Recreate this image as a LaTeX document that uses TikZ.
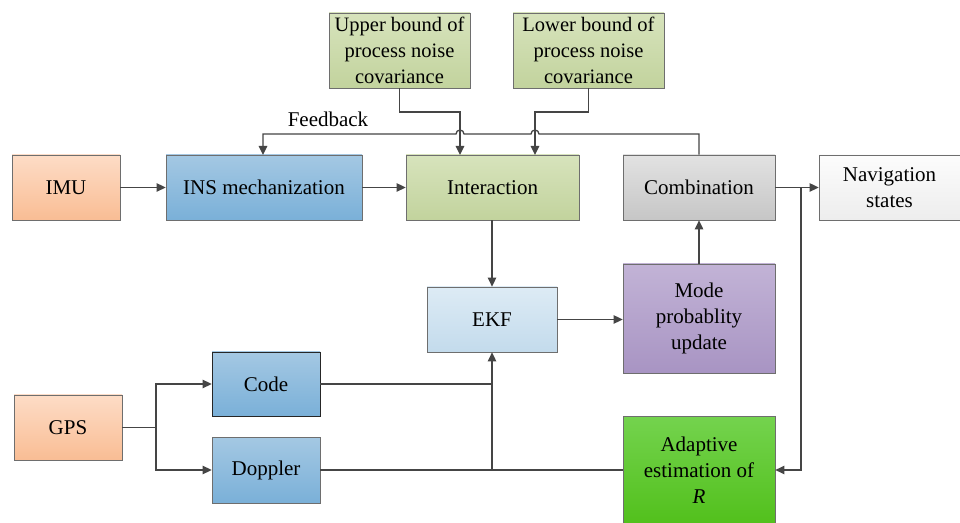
\documentclass[tikz,border=0pt]{standalone}
\usepackage{fontspec}
\setmainfont{LiberationSerif}[Extension=.ttf, UprightFont=*-Regular, ItalicFont=*-Italic, BoldFont=*-Bold, BoldItalicFont=*-BoldItalic]
\usetikzlibrary{arrows.meta}
\definecolor{lc}{HTML}{454545}
\definecolor{bc}{HTML}{6E6E6E}
\tikzset{
  box/.style={draw=bc, line width=0.8pt, align=center, inner sep=1pt,
    font=\fontsize{21}{26}\selectfont, text=black},
  orangebox/.style={box, top color=orTop, bottom color=orBot},
  bluebox/.style={box, top color=blTop, bottom color=blBot},
  greenbox/.style={box, top color=gnTop, bottom color=gnBot},
  graybox/.style={box, top color=grTop, bottom color=grBot},
  whitebox/.style={box, top color=whTop, bottom color=whBot},
  ekfbox/.style={box, top color=ekTop, bottom color=ekBot},
  purplebox/.style={box, top color=puTop, bottom color=puBot},
  brightbox/.style={box, top color=brTop, bottom color=brBot},
  conn/.style={draw=lc, line width=1.3pt},
  arr/.style={conn, -{Triangle[length=9pt,width=8.5pt]}},
}
\definecolor{orTop}{HTML}{FDDCC6}\definecolor{orBot}{HTML}{F9BD94}
\definecolor{blTop}{HTML}{A4C8E3}\definecolor{blBot}{HTML}{7AB0D8}
\definecolor{gnTop}{HTML}{D7E3BC}\definecolor{gnBot}{HTML}{C2D39D}
\definecolor{grTop}{HTML}{E2E2E2}\definecolor{grBot}{HTML}{C6C6C6}
\definecolor{whTop}{HTML}{FCFCFC}\definecolor{whBot}{HTML}{EDEDED}
\definecolor{ekTop}{HTML}{DDEBF5}\definecolor{ekBot}{HTML}{C3DBEC}
\definecolor{puTop}{HTML}{C2B3D6}\definecolor{puBot}{HTML}{A894C3}
\definecolor{brTop}{HTML}{74D34E}\definecolor{brBot}{HTML}{52C01C}
\begin{document}
\begin{tikzpicture}[x=1pt,y=1pt]
\useasboundingbox (0,0) rectangle (960,522);
\fill[white] (0,0) rectangle (960,522);
% nodes
\node[orangebox, minimum width=108pt, minimum height=65pt] (imu) at (66,334.5) {IMU};
\node[bluebox, minimum width=196pt, minimum height=65pt] (ins) at (264,334.5) {INS mechanization};
\node[greenbox, minimum width=173pt, minimum height=65pt] (inter) at (492.5,334.5) {Interaction};
\node[graybox, minimum width=152pt, minimum height=65pt] (comb) at (699,334.5) {Combination};
\node[whitebox, minimum width=141pt, minimum height=65pt] (nav) at (889.5,334.5) {Navigation\\states};
\node[greenbox, font=\fontsize{20.5}{26}\selectfont, minimum width=141pt, minimum height=75pt, inner sep=0pt] (upper) at (399.5,471.5) {Upper bound of\\process noise\\covariance};
\node[greenbox, font=\fontsize{20.5}{26}\selectfont, minimum width=151pt, minimum height=75pt, inner sep=0pt] (lower) at (588.5,471.5) {Lower bound of\\process noise\\covariance};
\node[ekfbox, minimum width=130pt, minimum height=65pt] (ekf) at (492,202.5) {EKF};
\node[purplebox, minimum width=152pt, minimum height=109pt] (mode) at (699,203.5) {Mode\\probablity\\update};
\node[bluebox, draw=black!85, minimum width=108pt, minimum height=64pt] (code) at (266,138) {Code};
\node[orangebox, minimum width=108pt, minimum height=65pt] (gps) at (68,94.5) {GPS};
\node[bluebox, minimum width=108pt, minimum height=66pt] (dop) at (266,52) {Doppler};
\node[brightbox, minimum width=152pt, minimum height=108pt] (adap) at (699,52) {Adaptive\\estimation of\\\textit{R}};
% coordinates
\coordinate (split) at (801,334.5);
\coordinate (gsplit) at (156,94.5);
\coordinate (ekfin) at (492,52);
\coordinate (codej) at (492,138);
% connectors
\draw[arr] (imu) -- (ins);
\draw[arr] (ins) -- (inter);
\draw[arr] (comb) -- (nav);
\draw[arr] (split) |- (adap.east);
\draw[arr] (inter.south -| ekf.north) -- (ekf.north);
\draw[arr] (ekf) -- (mode.west |- ekf.east);
\draw[arr] (mode.north -| comb.south) -- (comb.south);
\draw[arr] (gps.east) -- (gsplit) |- (code.west);
\draw[arr] (gsplit) |- (dop.west);
\draw[conn] (code.east) -- (codej);
\draw[conn] (dop.east) -- (adap.west);
\draw[arr] (ekfin) -- (ekf.south);
% feedback with hops
\draw[arr] (comb.north) -- (699,388) -- (539,388)
  arc[start angle=0,end angle=180,radius=4pt] -- (464,388)
  arc[start angle=0,end angle=180,radius=4pt] -- (263,388) -- (263,367);
\node[font=\fontsize{21}{23}\selectfont, anchor=base] (fb) at (328,395) {Feedback};
\draw[arr] (upper.south) -- (399.5,410) -- (460,410) -- (460,367);
\draw[arr] (lower.south) -- (588.5,410) -- (535,410) -- (535,367);
\end{tikzpicture}
\end{document}
